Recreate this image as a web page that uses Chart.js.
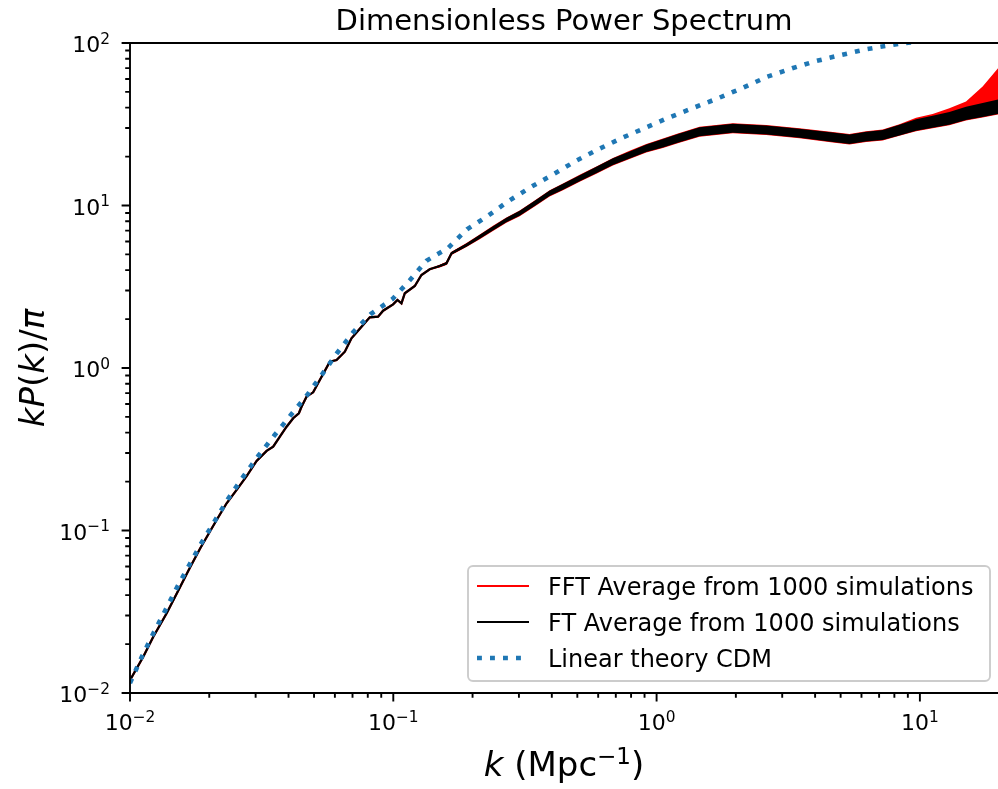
<!DOCTYPE html>
<html>
<head>
<meta charset="utf-8">
<title>Dimensionless Power Spectrum</title>
<script src="https://cdn.jsdelivr.net/npm/chart.js@4.4.1/dist/chart.umd.min.js"></script>
<style>
  body { margin: 0; background: #fff; }
  #box { position: relative; width: 998px; height: 789px; }
</style>
</head>
<body>
<div id="box"><canvas id="powerChart"></canvas></div>
<script>
// k in Mpc^-1, values are kP(k)/pi
const ftK = [0.01, 0.01123, 0.01226, 0.01378, 0.01548, 0.0169, 0.01844, 0.02012, 0.02133, 0.02328,
  0.02541, 0.02773, 0.03026, 0.03303, 0.03498, 0.03709, 0.03933, 0.04166, 0.04378, 0.04482,
  0.04683, 0.04962, 0.05259, 0.05741, 0.06088, 0.06546, 0.06937, 0.07573, 0.08142, 0.08754,
  0.09147, 0.09982, 0.1037, 0.1074, 0.1106, 0.1207, 0.1279, 0.1375, 0.1501, 0.1592,
  0.1664, 0.1896, 0.213, 0.2391, 0.2689, 0.302, 0.3443, 0.3925, 0.4411, 0.5104,
  0.5905, 0.6827, 0.7896, 0.914, 1.057, 1.204, 1.456, 1.948, 2.608, 3.489,
  4.669, 5.40, 6.249, 7.225, 8.36, 9.673, 11.18, 12.94, 14.97, 17.31, 19.8];
const ftPower = [0.0120, 0.01673, 0.02221, 0.03094, 0.0448, 0.0592, 0.0772, 0.0985, 0.116, 0.1471,
  0.178, 0.216, 0.268, 0.309, 0.3279, 0.3777, 0.4353, 0.4903, 0.5264, 0.5777,
  0.6659, 0.7087, 0.8437, 1.093, 1.12, 1.26, 1.523, 1.796, 2.051, 2.069,
  2.252, 2.466, 2.621, 2.501, 2.883, 3.196, 3.736, 4.05, 4.244, 4.409,
  5.08, 5.713, 6.427, 7.241, 8.144, 8.954, 10.31, 11.89, 13.05, 14.71,
  16.54, 18.6, 20.46, 22.49, 24.14, 25.92, 28.46, 29.86, 29.14, 27.82,
  26.29, 25.56, 26.51, 27.15, 29.14, 31.29, 32.8, 34.4, 36.93, 38.7, 40.55];

// FFT average lies on the FT one up to k ~ 8, then turns up (same k grid)
const fftTailPower = [31.8, 33.8, 37.0, 40.8, 47.5, 60];

// half width (dex) of the noisy band round each average, same k grid
const ftScatter = [0, 0, 0, 0, 0, 0, 0, 0, 0, 0,
  0, 0, 0, 0, 0, 0, 0, 0, 0, 0,
  0, 0, 0, 0, 0, 0, 0, 0, 0, 0,
  0, 0, 0, 0, 0, 0, 0, 0, 0.006, 0.007,
  0.008, 0.01, 0.012, 0.013, 0.014, 0.015, 0.016, 0.017, 0.018, 0.019,
  0.02, 0.021, 0.022, 0.023, 0.026, 0.027, 0.028, 0.028, 0.028, 0.028,
  0.029, 0.029, 0.03, 0.031, 0.033, 0.035, 0.037, 0.039, 0.041, 0.043, 0.045];
const fftScatter = [0, 0, 0, 0, 0, 0, 0, 0, 0, 0,
  0, 0, 0, 0, 0, 0, 0, 0, 0, 0,
  0, 0, 0, 0, 0, 0, 0, 0, 0, 0,
  0, 0, 0, 0, 0, 0, 0, 0, 0.008, 0.009,
  0.01, 0.012, 0.014, 0.015, 0.016, 0.017, 0.018, 0.019, 0.02, 0.021,
  0.022, 0.023, 0.026, 0.027, 0.029, 0.03, 0.031, 0.031, 0.031, 0.031,
  0.032, 0.032, 0.033, 0.034, 0.036, 0.037, 0.034, 0.03, 0.03, 0.056, 0.067];

// linear theory CDM
const theoryK = [0.01, 0.01108, 0.01223, 0.01358, 0.01504, 0.01679, 0.01871, 0.02102, 0.0236, 0.02692,
  0.03069, 0.0352, 0.04073, 0.04709, 0.05368, 0.06119, 0.07037, 0.08214, 0.09931, 0.1155,
  0.1337, 0.1614, 0.1906, 0.229, 0.2751, 0.3346, 0.4065, 0.4958, 0.6039, 0.743,
  0.9142, 1.12, 1.386, 1.709, 2.12, 2.631, 3.273, 4.037, 5.023, 6.249, 7.02, 8.735, 12, 20];
const theoryPower = [0.0115, 0.01666, 0.02307, 0.03197, 0.04428, 0.0613, 0.0841, 0.1149, 0.157, 0.2144,
  0.2874, 0.3815, 0.5115, 0.6822, 0.9146, 1.237, 1.658, 2.149, 2.658, 3.464,
  4.575, 5.476, 7.137, 8.654, 10.7, 13.05, 15.62, 18.87, 22.27, 26.14,
  30.28, 34.89, 40.0, 45.67, 52.86, 62.03, 69.87, 77.5, 84.4, 91.5, 94.5, 100, 105, 116];

const xTicks = [0.01, 0.1, 1, 10];
const yTicks = [0.01, 0.1, 1, 10, 100];

const FONT = '"DejaVu Sans", sans-serif';
Chart.defaults.font.family = FONT;
Chart.defaults.color = '#000';

function pts(ks, vs) {
  return ks.map((k, i) => ({x: k, y: vs[i]}));
}

const fftPower = ftPower.slice(0, ftK.length - fftTailPower.length).concat(fftTailPower);
const ftLow = ftPower.map((v, i) => v / Math.pow(10, ftScatter[i]));
const ftHigh = ftPower.map((v, i) => v * Math.pow(10, ftScatter[i]));
const fftLow = ftPower.map((v, i) => v / Math.pow(10, ftScatter[i] + 0.003));
const fftHigh = fftPower.map((v, i) => v * Math.pow(10, fftScatter[i]));

// mixed upright / italic / raised text, pieces = [text, font, rise]
function pieceWidth(ctx, pieces) {
  let total = 0;
  pieces.forEach(p => { ctx.font = p[1]; total += ctx.measureText(p[0]).width; });
  return total;
}
function drawPieces(ctx, pieces, x, y) {
  let cx = x;
  pieces.forEach(p => {
    ctx.font = p[1];
    ctx.fillText(p[0], cx, y - (p[2] || 0));
    cx += ctx.measureText(p[0]).width;
  });
}
function tickPieces(v) {
  const e = Math.round(Math.log10(v));
  return [['10', '22px ' + FONT], [(e < 0 ? '\u2212' : '') + Math.abs(e), '15.4px ' + FONT, 8.5]];
}

const framePlugin = {
  id: 'frame',
  afterDraw(chart) {
    const ctx = chart.ctx;
    const a = chart.chartArea;
    const xs = chart.scales.x, ys = chart.scales.y;
    ctx.save();
    ctx.strokeStyle = '#000';
    ctx.lineWidth = 1.9;
    ctx.beginPath();
    for (let e = -2; e <= 2; e++) {
      for (let m = 1; m <= 9; m++) {
        const v = m * Math.pow(10, e);
        const len = m === 1 ? 8.4 : 4.8;
        if (v >= xs.min && v <= xs.max) {
          const px = xs.getPixelForValue(v);
          ctx.moveTo(px, a.bottom);
          ctx.lineTo(px, a.bottom + len);
        }
        if (v >= ys.min && v <= ys.max) {
          const py = ys.getPixelForValue(v);
          ctx.moveTo(a.left, py);
          ctx.lineTo(a.left - len, py);
        }
      }
    }
    ctx.stroke();
    // spines
    ctx.beginPath();
    ctx.moveTo(a.right + 2, a.top);
    ctx.lineTo(a.left, a.top);
    ctx.lineTo(a.left, a.bottom);
    ctx.lineTo(a.right + 2, a.bottom);
    ctx.stroke();

    ctx.fillStyle = '#000';
    ctx.textAlign = 'left';
    ctx.textBaseline = 'alphabetic';

    // tick labels at the scale positions
    xs.ticks.forEach(t => {
      const p = tickPieces(t.value);
      drawPieces(ctx, p, xs.getPixelForValue(t.value) - pieceWidth(ctx, p) / 2, a.bottom + 37);
    });
    ys.ticks.forEach(t => {
      const p = tickPieces(t.value);
      drawPieces(ctx, p, a.left - 20 - pieceWidth(ctx, p), ys.getPixelForValue(t.value) + 9);
    });

    // title
    const mid = (a.left + a.right) / 2;
    const title = [['Dimensionless Power Spectrum', '29px ' + FONT]];
    drawPieces(ctx, title, mid - pieceWidth(ctx, title) / 2, 30);

    // axis titles
    const up = '34px ' + FONT, it = 'italic 34px ' + FONT;
    const xTitle = [['k', it], [' (Mpc', up], ['\u22121', '23px ' + FONT, 12], [')', up]];
    drawPieces(ctx, xTitle, mid - pieceWidth(ctx, xTitle) / 2, 776);
    const yTitle = [['kP', it], ['(', up], ['k', it], [')/', up], ['\u03C0', it]];
    ctx.save();
    ctx.translate(44, (a.top + a.bottom) / 2);
    ctx.rotate(-Math.PI / 2);
    drawPieces(ctx, yTitle, -pieceWidth(ctx, yTitle) / 2, 0);
    ctx.restore();

    // legend, inside the lower right corner
    const bx = 468, by = 566, bw = 522, bh = 115, r = 5;
    ctx.beginPath();
    ctx.moveTo(bx + r, by);
    ctx.arcTo(bx + bw, by, bx + bw, by + bh, r);
    ctx.arcTo(bx + bw, by + bh, bx, by + bh, r);
    ctx.arcTo(bx, by + bh, bx, by, r);
    ctx.arcTo(bx, by, bx + bw, by, r);
    ctx.closePath();
    ctx.fillStyle = 'rgba(255,255,255,0.8)';
    ctx.fill();
    ctx.strokeStyle = '#cccccc';
    ctx.lineWidth = 1.9;
    ctx.stroke();
    const items = chart.data.datasets.filter(d => d.label);
    items.forEach((d, i) => {
      const ry = 586 + i * 36;
      ctx.beginPath();
      ctx.strokeStyle = d.borderColor;
      ctx.lineWidth = d.borderWidth;
      ctx.setLineDash(d.borderDash || []);
      ctx.moveTo(477, ry);
      ctx.lineTo(529, ry);
      ctx.stroke();
      ctx.setLineDash([]);
      ctx.fillStyle = '#000';
      ctx.font = '24px ' + FONT;
      ctx.fillText(d.label, 548, ry + 9);
    });
    ctx.restore();
  }
};

const hiddenTicks = {
  drawOnChartArea: false, drawTicks: true, tickLength: 8, tickColor: 'rgba(0,0,0,0)'
};

new Chart(document.getElementById('powerChart'), {
  type: 'line',
  data: {
    datasets: [
      { data: pts(ftK, fftLow), borderWidth: 0, pointRadius: 0, fill: false, order: 4 },
      { data: pts(ftK, fftHigh), borderWidth: 0, pointRadius: 0, fill: '-1',
        backgroundColor: '#ff0000', order: 4 },
      { label: 'FFT Average from 1000 simulations', data: pts(ftK, fftPower),
        borderColor: '#ff0000', borderWidth: 2.2, pointRadius: 0, order: 3 },
      { data: pts(ftK, ftLow), borderWidth: 0, pointRadius: 0, fill: false, order: 2 },
      { data: pts(ftK, ftHigh), borderWidth: 0, pointRadius: 0, fill: '-1',
        backgroundColor: '#000000', order: 2 },
      { label: 'FT Average from 1000 simulations', data: pts(ftK, ftPower),
        borderColor: '#000000', borderWidth: 2.2, pointRadius: 0, order: 1 },
      { label: 'Linear theory CDM', data: pts(theoryK, theoryPower),
        borderColor: '#1f77b4', borderWidth: 4.6, borderDash: [4.9, 8.1], pointRadius: 0, order: 0 }
    ]
  },
  options: {
    responsive: true,
    maintainAspectRatio: false,
    animation: false,
    devicePixelRatio: 1,
    clip: 0,
    layout: { padding: { top: 43, left: 0, right: 0, bottom: 0 } },
    elements: { line: { tension: 0 } },
    plugins: {
      legend: { display: false },
      title: { display: false },
      tooltip: { enabled: false }
    },
    scales: {
      x: {
        type: 'logarithmic',
        min: 0.01,
        max: 19.8,
        grid: hiddenTicks,
        border: { display: false },
        ticks: { display: false },
        afterBuildTicks: s => { s.ticks = xTicks.map(v => ({value: v})); },
        afterFit: s => { s.height = 96; }
      },
      y: {
        type: 'logarithmic',
        min: 0.01,
        max: 100,
        grid: hiddenTicks,
        border: { display: false },
        ticks: { display: false },
        afterBuildTicks: s => { s.ticks = yTicks.map(v => ({value: v})); },
        afterFit: s => { s.width = 130; }
      }
    }
  },
  plugins: [framePlugin]
});
</script>
</body>
</html>
